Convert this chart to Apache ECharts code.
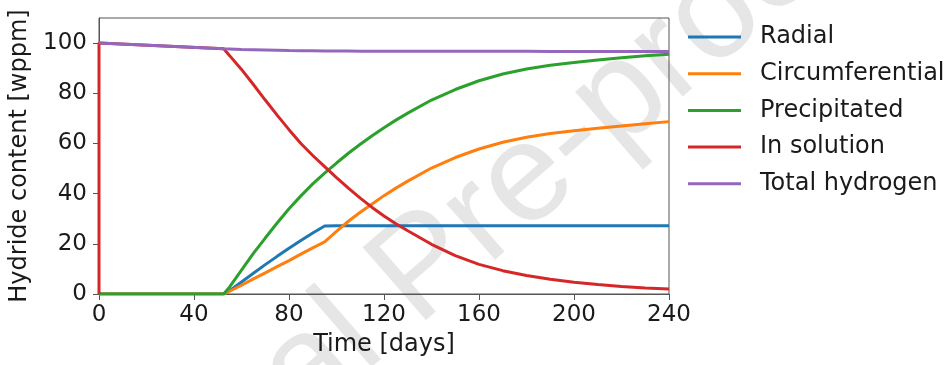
<!DOCTYPE html>
<html>
<head>
<meta charset="utf-8">
<script src="https://cdn.jsdelivr.net/npm/echarts@6/dist/echarts.min.js"></script>
<style>html,body{margin:0;padding:0;background:#fff;}#c{width:952px;height:365px;}</style>
</head>
<body>
<div id="c"></div>
<script>
var days = [0, 0, 52.5, 55, 60, 65, 70, 75, 80, 85, 90, 95, 100, 105, 110, 115, 120, 125, 130, 140, 150, 160, 170, 180, 190, 200, 210, 220, 230, 240];
var radial = [0, 0, 0, 1.3, 4.8, 8.3, 11.7, 15.0, 18.2, 21.3, 24.3, 27.1, 27.2, 27.2, 27.2, 27.2, 27.2, 27.2, 27.2, 27.2, 27.2, 27.2, 27.2, 27.2, 27.2, 27.2, 27.2, 27.2, 27.2, 27.2];
var circumferential = [0, 0, 0, 1.1, 3.5, 6.0, 8.4, 10.9, 13.3, 15.9, 18.4, 20.8, 25.0, 29.0, 32.6, 35.9, 39.2, 42.2, 45.0, 50.2, 54.4, 57.8, 60.5, 62.5, 64.0, 65.1, 66.1, 67.0, 67.9, 68.7];
var precipitated = [0, 0, 0, 2.8, 9.5, 16.2, 22.3, 28.3, 34.0, 39.1, 43.9, 48.2, 52.2, 56.1, 59.7, 63.1, 66.3, 69.3, 72.1, 77.3, 81.5, 85.0, 87.7, 89.7, 91.2, 92.3, 93.3, 94.2, 95.0, 95.6];
var inSolution = [0, 100, 97.7, 95.0, 89.5, 83.5, 77.3, 71.3, 65.5, 60.0, 55.2, 50.8, 46.4, 42.2, 38.2, 34.5, 31.1, 28.0, 25.2, 19.8, 15.3, 11.8, 9.3, 7.4, 5.9, 4.7, 3.8, 3.0, 2.4, 2.0];
var totalHydrogen = [100, 100, 97.7, 97.6, 97.4, 97.3, 97.2, 97.1, 97.0, 96.95, 96.9, 96.85, 96.8, 96.8, 96.75, 96.75, 96.7, 96.7, 96.7, 96.7, 96.7, 96.7, 96.7, 96.7, 96.65, 96.65, 96.65, 96.6, 96.6, 96.6];
var seriesNames = ['Radial', 'Circumferential', 'Precipitated', 'In solution', 'Total hydrogen'];
var seriesColors = ['#1f77b4', '#ff7f0e', '#2ca02c', '#d62728', '#9467bd'];
var xTicks = [0, 40, 80, 120, 160, 200, 240];
var yTicks = [0, 20, 40, 60, 80, 100];

var values = [radial, circumferential, precipitated, inSolution, totalHydrogen];
function pairs(arr) { return days.map(function (d, i) { return [d, arr[i]]; }); }

var font = 'DejaVu Sans';
var chart = echarts.init(document.getElementById('c'), null, { renderer: 'canvas' });
chart.setOption({
  animation: false,
  backgroundColor: '#fff',
  textStyle: { fontFamily: font },
  graphic: [{
    type: 'text',
    x: 16, y: 625,
    rotation: 41 * Math.PI / 180,
    z: -10,
    silent: true,
    style: {
      text: 'Journal Pre-proof',
      fontSize: 140,
      fontFamily: 'Liberation Sans',
      fill: '#e6e6e6',
      textAlign: 'left',
      textVerticalAlign: 'middle'
    }
  }],
  grid: { left: 99, right: 283, top: 18, bottom: 71, show: true, borderColor: '#555', borderWidth: 1, backgroundColor: 'transparent' },
  legend: {
    orient: 'vertical',
    left: 688,
    top: 24,
    padding: 0,
    icon: 'rect',
    itemWidth: 53,
    itemHeight: 3,
    itemGap: 10.7,
    data: seriesNames,
    textStyle: { fontFamily: font, fontSize: 24, color: '#1a1a1a', lineHeight: 26, padding: [0, 0, 0, 14] }
  },
  xAxis: {
    type: 'value', min: 0, max: 240, interval: 40,
    name: 'Time [days]', nameLocation: 'middle', nameGap: 39,
    nameTextStyle: { fontFamily: font, fontSize: 24, color: '#1a1a1a' },
    axisLine: { show: true, lineStyle: { color: '#555', width: 1 } },
    axisTick: { show: true, inside: false, length: 6, lineStyle: { color: '#555' }, customValues: xTicks },
    axisLabel: { fontFamily: font, fontSize: 23, color: '#1a1a1a', margin: 10, customValues: xTicks },
    splitLine: { show: false }
  },
  yAxis: {
    type: 'value', min: 0, max: 110, interval: 20,
    name: 'Hydride content [wppm]', nameLocation: 'middle', nameGap: 62,
    nameTextStyle: { fontFamily: font, fontSize: 24, color: '#1a1a1a' },
    axisLine: { show: true, lineStyle: { color: '#555', width: 1 } },
    axisTick: { show: true, inside: false, length: 6, lineStyle: { color: '#555' }, customValues: yTicks },
    axisLabel: { fontFamily: font, fontSize: 23, color: '#1a1a1a', margin: 12, customValues: yTicks },
    splitLine: { show: false }
  },
  series: seriesNames.map(function (n, i) {
    return {
      name: n, type: 'line', data: pairs(values[i]),
      symbol: 'none', smooth: false, clip: true,
      lineStyle: { color: seriesColors[i], width: 3 },
      itemStyle: { color: seriesColors[i] },
      z: 2 + i
    };
  })
});
</script>
</body>
</html>
